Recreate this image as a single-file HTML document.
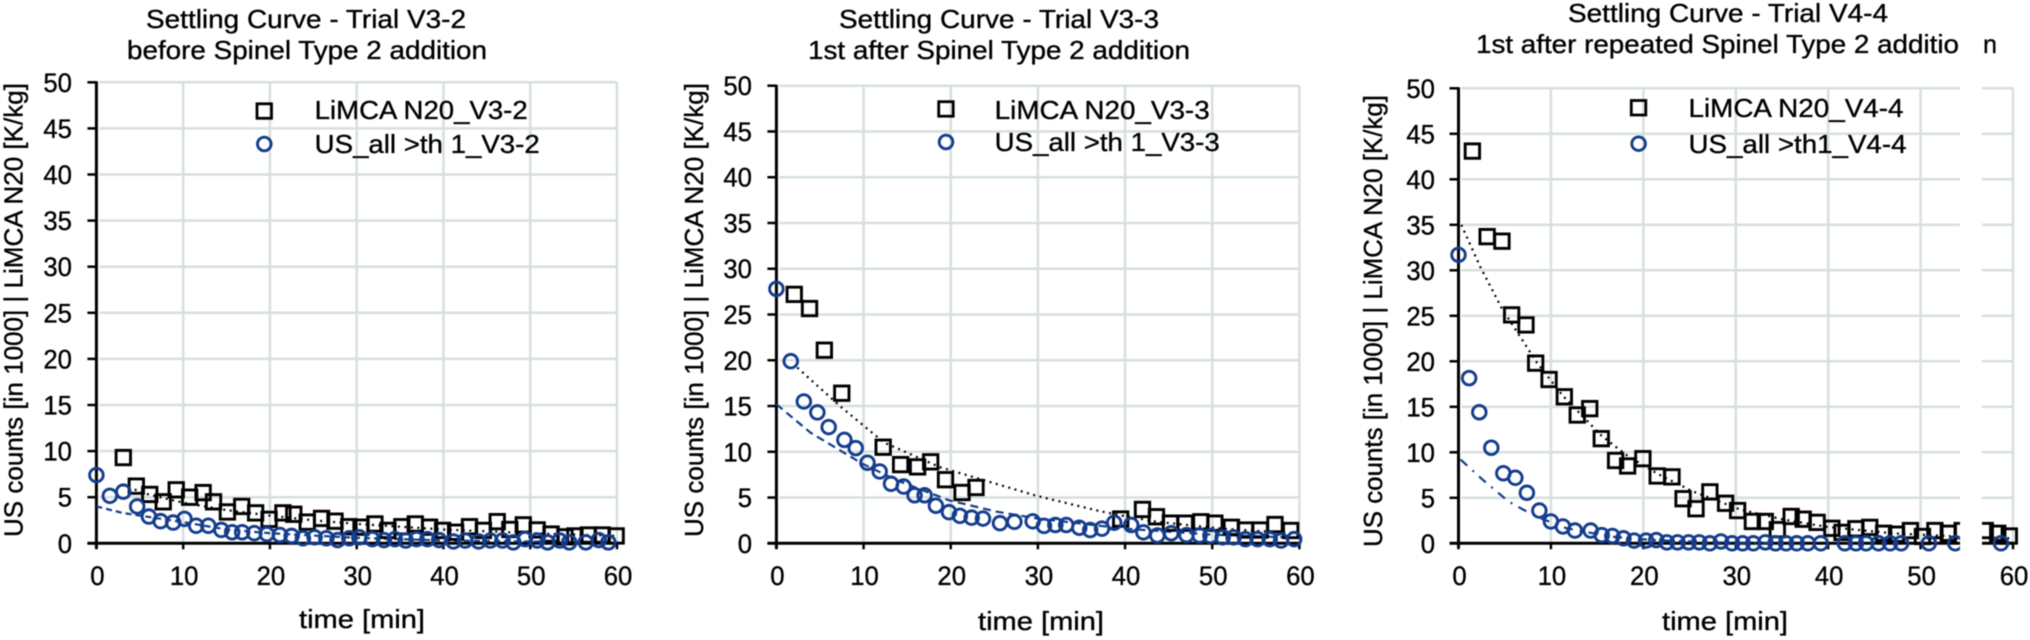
<!DOCTYPE html>
<html lang="en">
<head>
<meta charset="utf-8">
<title>Settling Curves</title>
<style>
html,body{margin:0;padding:0;background:#fff;width:2030px;height:640px;overflow:hidden}
svg{display:block;filter:blur(0.5px)}
text{font-family:"Liberation Sans",sans-serif;font-size:26px;fill:#000;stroke:#000;stroke-width:0.35px}
</style>
</head>
<body>
<svg id="chart" xmlns="http://www.w3.org/2000/svg" width="2030" height="640" viewBox="0 0 2030 640">
  <rect x="0" y="0" width="2030" height="640" fill="#fff"/>

  <g id="panel-1"></g>
  <g id="panel-2"></g>
  <g id="panel-3"></g>

  <rect x="1960" y="70" width="22" height="490" fill="#fff"/>

  <g>
    <text x="306" y="28" text-anchor="middle" textLength="320" lengthAdjust="spacingAndGlyphs">Settling Curve - Trial V3-2</text>
    <text x="307" y="59" text-anchor="middle" textLength="360" lengthAdjust="spacingAndGlyphs">before Spinel Type 2 addition</text>
    <text transform="translate(22.5,310) rotate(-90)" text-anchor="middle" textLength="454" lengthAdjust="spacingAndGlyphs">US counts [in 1000] | LiMCA N20 [K/kg]</text>
    <text x="362" y="628" text-anchor="middle" textLength="126" lengthAdjust="spacingAndGlyphs">time [min]</text>
    <rect x="257" y="103.8" width="14.5" height="14.5" fill="none" stroke="#000" stroke-width="2.8"/>
    <circle cx="264.3" cy="144" r="6.8" fill="none" stroke="#143c8c" stroke-width="2.9"/>
    <text x="314.7" y="119" textLength="213" lengthAdjust="spacingAndGlyphs">LiMCA N20_V3-2</text>
    <text x="314.7" y="153" textLength="225" lengthAdjust="spacingAndGlyphs">US_all &gt;th 1_V3-2</text>
  </g>

  <g>
    <text x="999" y="28" text-anchor="middle" textLength="320" lengthAdjust="spacingAndGlyphs">Settling Curve - Trial V3-3</text>
    <text x="999" y="59" text-anchor="middle" textLength="382" lengthAdjust="spacingAndGlyphs">1st after Spinel Type 2 addition</text>
    <text transform="translate(703,310) rotate(-90)" text-anchor="middle" textLength="454" lengthAdjust="spacingAndGlyphs">US counts [in 1000] | LiMCA N20 [K/kg]</text>
    <text x="1041" y="630" text-anchor="middle" textLength="126" lengthAdjust="spacingAndGlyphs">time [min]</text>
    <rect x="938.7" y="101.7" width="14.5" height="14.5" fill="none" stroke="#000" stroke-width="2.8"/>
    <circle cx="946" cy="142" r="6.8" fill="none" stroke="#143c8c" stroke-width="2.9"/>
    <text x="994.7" y="119" textLength="215" lengthAdjust="spacingAndGlyphs">LiMCA N20_V3-3</text>
    <text x="994.7" y="151" textLength="225" lengthAdjust="spacingAndGlyphs">US_all &gt;th 1_V3-3</text>
  </g>

  <g>
    <text x="1728" y="22" text-anchor="middle" textLength="320" lengthAdjust="spacingAndGlyphs">Settling Curve -  Trial V4-4</text>
    <text x="1476" y="53" textLength="483" lengthAdjust="spacingAndGlyphs">1st after repeated Spinel Type 2 additio</text>
    <text x="1983" y="53" textLength="14" lengthAdjust="spacingAndGlyphs">n</text>
    <text transform="translate(1382,321) rotate(-90)" text-anchor="middle" textLength="452" lengthAdjust="spacingAndGlyphs">US counts [in 1000] | LiMCA N20 [K/kg]</text>
    <text x="1725" y="630" text-anchor="middle" textLength="126" lengthAdjust="spacingAndGlyphs">time [min]</text>
    <rect x="1631.3" y="100.5" width="14.5" height="14.5" fill="none" stroke="#000" stroke-width="2.8"/>
    <circle cx="1638.6" cy="143.7" r="6.8" fill="none" stroke="#143c8c" stroke-width="2.9"/>
    <text x="1688.5" y="117" textLength="215" lengthAdjust="spacingAndGlyphs">LiMCA N20_V4-4</text>
    <text x="1688.5" y="153" textLength="218" lengthAdjust="spacingAndGlyphs">US_all &gt;th1_V4-4</text>
  </g>
</svg>

<script>
// Axis tick labels
const xTicks = [0, 10, 20, 30, 40, 50, 60];
const yTicks = [0, 5, 10, 15, 20, 25, 30, 35, 40, 45, 50];

// Panel 1 - Trial V3-2
const v32LimcaTime = [3.1,4.6,6.15,7.7,9.2,10.75,12.3,13.5,15.1,16.75,18.35,19.9,21.5,22.75,24.3,25.95,27.5,29.1,30.5,32.1,33.6,35.2,36.75,38.4,39.9,41.4,43,44.6,46.2,47.65,49.2,50.8,52.4,54,55.15,56.7,58.3,59.9];
const v32LimcaValue = [9.3,6.2,5.3,4.5,5.8,5.0,5.5,4.5,3.4,4.0,3.3,2.6,3.3,3.15,2.3,2.7,2.4,1.8,1.75,2.1,1.4,1.8,2.1,1.75,1.4,1.2,1.8,1.4,2.35,1.5,2.0,1.45,1.0,0.7,0.8,0.9,0.9,0.8];
const v32UsTime = [0,1.55,3.1,4.7,6.05,7.4,8.85,10.15,11.5,12.9,14.4,15.65,16.8,18.2,19.65,21.15,22.5,23.8,25.15,26.5,27.8,29.15,30.3,31.8,33.15,34.4,35.65,36.9,38.15,39.5,41.15,42.5,44.05,45.4,46.8,48.05,49.4,50.8,52,53.4,54.5,56.4,57.9,59];
const v32UsValue = [7.4,5.15,5.6,4.0,2.9,2.4,2.25,2.65,1.9,1.9,1.45,1.2,1.2,1.1,1.0,0.9,0.8,0.55,0.65,0.55,0.35,0.55,0.65,0.45,0.35,0.45,0.3,0.45,0.45,0.35,0.2,0.3,0.2,0.3,0.3,0.1,0.45,0.3,0.1,0.3,0.1,0.1,0.35,0.1];
const v32LimcaTrendTime = [3,6,10,15,20,25,30,35,40,50,60];
const v32LimcaTrendValue = [6.3,5.3,4.4,3.6,3,2.5,2.1,1.8,1.5,1.1,0.8];
const v32UsTrendTime = [0,3,5,10,15,20,30,40,50,60];
const v32UsTrendValue = [4,3.3,3,2.3,1.5,1.1,0.6,0.3,0.2,0.1];

// Panel 2 - Trial V3-3
const v33LimcaTime = [2.05,3.8,5.5,7.5,12.25,14.25,16.2,17.7,19.4,21.3,22.9,39.5,42,43.6,45.2,46.9,48.7,50.3,52.2,53.8,55.5,57.2,59];
const v33LimcaValue = [27.2,25.65,21.1,16.4,10.5,8.6,8.35,8.9,6.95,5.55,6.1,2.65,3.7,2.9,2.2,2.2,2.35,2.2,1.75,1.45,1.45,2.05,1.4];
const v33UsTime = [0,1.65,3.15,4.7,6,7.8,9.1,10.45,11.85,13.15,14.6,15.85,17,18.3,19.8,21.05,22.4,23.7,25.65,27.3,29.4,30.7,32,33.25,34.75,36,37.35,38.75,40.7,42.1,43.7,45.3,47.05,48.55,49.8,51.2,52.45,53.8,55.2,56.6,57.9,59.4];
const v33UsValue = [27.8,19.9,15.5,14.3,12.7,11.3,10.4,8.8,7.85,6.5,6.2,5.25,5.25,4.1,3.4,3.0,2.8,2.7,2.2,2.35,2.4,1.9,2.0,2.0,1.7,1.45,1.6,2.25,2.0,1.2,0.85,1.1,0.9,0.85,0.8,0.65,0.65,0.45,0.45,0.45,0.3,0.45];
const v33LimcaTrendTime = [2.4,7.4,12.35,18.8,23.8,29.8,36.75,39.2,43.7,51.2,59.7];
const v33LimcaTrendValue = [19.2,14.9,11,8.3,6.9,5.2,3.6,3.1,2.35,1.6,1.1];
const v33UsTrendTime = [0,3.9,9.85,13.8,19.8,25.3,30,40,50,60];
const v33UsTrendValue = [15.2,12.1,8.7,6.9,4.7,3.45,2.7,1.6,0.95,0.6];

// Panel 3 - Trial V4-4
const v44LimcaTime = [1.5,3.1,4.7,5.75,7.3,8.35,9.8,11.45,12.85,14.2,15.45,17,18.3,19.95,21.5,23.1,24.3,25.7,27.2,28.9,30.2,31.8,33.2,34.5,36,37.3,38.8,40.4,41.5,43,44.5,46,47.4,48.9,50.2,51.55,53,54.5,57,58.35,59.6];
const v44LimcaValue = [43.1,33.7,33.2,25.1,24,19.8,18,16.1,14.1,14.8,11.5,9.1,8.5,9.3,7.4,7.3,4.9,3.8,5.65,4.4,3.6,2.4,2.4,1.5,2.95,2.65,2.3,1.65,1.2,1.6,1.75,1.1,1.0,1.4,0.75,1.4,1.1,1.4,1.4,1.1,0.8];
const v44UsTime = [0,1.15,2.25,3.55,4.85,6.15,7.4,8.75,10,11.3,12.6,14.3,15.5,16.65,17.85,19,20.3,21.4,22.55,23.7,24.9,26.05,27.2,28.4,29.6,30.75,31.9,33.2,34.3,35.45,36.6,37.8,39.2,41.8,43,44.1,45.45,46.7,47.9,50.9,53.75,58.7];
const v44UsValue = [31.7,18.15,14.4,10.5,7.7,7.2,5.55,3.6,2.4,1.85,1.4,1.4,0.9,0.8,0.55,0.3,0.3,0.35,0.1,0.1,0.1,0.1,0,0.2,0,0,0,0.1,0,0,0,0,0,0,0,0,0,0,0,0,0,0];
const v44LimcaTrendTime = [0.3,2.35,4.7,6.8,8.45,11.3,15.5,18.3,21.6,25.35,30.5,35.2,39.9,47,54,59.6];
const v44LimcaTrendValue = [35,30.4,25.8,22.5,19.9,16.2,11.8,9.6,7.6,5.7,3.7,2.6,1.8,1.1,0.75,0.55];
const v44UsTrendTime = [0.23,2.6,5.4,7,8.75,11.7,16.4,21,28,35];
const v44UsTrendValue = [9.2,7,4.6,3.7,2.8,1.65,0.75,0.35,0.1,0];

const NS = 'http://www.w3.org/2000/svg';
const GRID = '#d6e0dd';
const BLUE = '#143c8c';
const INK = '#000';

function make(tag, attrs, parent) {
  const el = document.createElementNS(NS, tag);
  for (const k in attrs) el.setAttribute(k, attrs[k]);
  parent.appendChild(el);
  return el;
}

function drawPanel(cfg) {
  const g = document.getElementById(cfg.id);
  const x = t => cfg.x0 + (t - xTicks[0]) / (xTicks[xTicks.length - 1] - xTicks[0]) * (cfg.x1 - cfg.x0);
  const y = v => cfg.y0 + (v - yTicks[0]) / (yTicks[yTicks.length - 1] - yTicks[0]) * (cfg.y1 - cfg.y0);

  xTicks.forEach(t => {
    if (t === xTicks[0]) return;
    const line = make('line', {x1: x(t), x2: x(t), y1: y(50), y2: y(0), stroke: GRID, 'stroke-width': 2.5}, g);
    
    
  });
  yTicks.forEach(v => {
    if (v === yTicks[0]) return;
    const line = make('line', {x1: x(0) + 3, x2: x(60), y1: y(v), y2: y(v), stroke: GRID, 'stroke-width': 2.5}, g);
    
    
  });

  const yAxis = make('line', {x1: x(0), x2: x(0), y1: y(50) - 1, y2: y(0) + 5, stroke: INK, 'stroke-width': 3}, g);
  
  
  const xAxis = make('line', {x1: x(0) - 9, x2: x(60), y1: y(0), y2: y(0), stroke: INK, 'stroke-width': 3}, g);
  
  

  yTicks.forEach(v => {
    const tick = make('line', {x1: x(0) - 9, x2: x(0), y1: y(v), y2: y(v), stroke: INK, 'stroke-width': 2.5}, g);
    
    
    const s = String(v);
    const label = make('text', {x: cfg.yLabelRight, y: y(v) + 9.5, 'text-anchor': 'end', textLength: s.length * 14.3, lengthAdjust: 'spacingAndGlyphs', style: 'font-size:26.5px'}, g);
    label.textContent = s;
    
    
  });
  xTicks.forEach(t => {
    const tick = make('line', {x1: x(t), x2: x(t), y1: y(0), y2: y(0) + 6, stroke: INK, 'stroke-width': 2.5}, g);
    
    
    const s = String(t);
    const label = make('text', {x: x(t) + 1, y: cfg.xLabelY, 'text-anchor': 'middle', textLength: s.length * 14.3, lengthAdjust: 'spacingAndGlyphs', style: 'font-size:26.5px'}, g);
    label.textContent = s;
    
    
  });

  const lineD = (ts, vs) => ts.map((t, i) => (i ? 'L' : 'M') + x(t).toFixed(1) + ' ' + y(vs[i]).toFixed(1)).join(' ');

  const trendA = make('path', {d: lineD(cfg.limcaTrendT, cfg.limcaTrendV), fill: 'none', stroke: INK, 'stroke-width': 2.2, 'stroke-dasharray': '2 4.5'}, g);
  
  
  const trendB = make('path', {d: lineD(cfg.usTrendT, cfg.usTrendV), fill: 'none', stroke: BLUE, 'stroke-width': 2.2, 'stroke-dasharray': cfg.usDash}, g);
  
  

  cfg.limcaT.forEach((t, i) => {
    const s = make('rect', {x: x(t) - 7.2, y: y(cfg.limcaV[i]) - 7.2, width: 14.4, height: 14.4, fill: 'none', stroke: INK, 'stroke-width': 2.9}, g);
    
    
  });
  cfg.usT.forEach((t, i) => {
    const c = make('circle', {cx: x(t), cy: y(cfg.usV[i]), r: 6.8, fill: 'none', stroke: BLUE, 'stroke-width': 2.9}, g);
    
    
  });
}

drawPanel({id: 'panel-1', x0: 96.4, x1: 617, y0: 543.3, y1: 82.3, yLabelRight: 72, xLabelY: 585,
  limcaT: v32LimcaTime, limcaV: v32LimcaValue, usT: v32UsTime, usV: v32UsValue,
  limcaTrendT: v32LimcaTrendTime, limcaTrendV: v32LimcaTrendValue,
  usTrendT: v32UsTrendTime, usTrendV: v32UsTrendValue, usDash: '6 4'});
drawPanel({id: 'panel-2', x0: 776.4, x1: 1299.4, y0: 543.3, y1: 85.7, yLabelRight: 752, xLabelY: 585,
  limcaT: v33LimcaTime, limcaV: v33LimcaValue, usT: v33UsTime, usV: v33UsValue,
  limcaTrendT: v33LimcaTrendTime, limcaTrendV: v33LimcaTrendValue,
  usTrendT: v33UsTrendTime, usTrendV: v33UsTrendValue, usDash: '8 5'});
drawPanel({id: 'panel-3', x0: 1458.5, x1: 2013, y0: 543.3, y1: 88.3, yLabelRight: 1435, xLabelY: 585,
  limcaT: v44LimcaTime, limcaV: v44LimcaValue, usT: v44UsTime, usV: v44UsValue,
  limcaTrendT: v44LimcaTrendTime, limcaTrendV: v44LimcaTrendValue,
  usTrendT: v44UsTrendTime, usTrendV: v44UsTrendValue, usDash: '9 7 2 7'});
</script>
</body>
</html>
